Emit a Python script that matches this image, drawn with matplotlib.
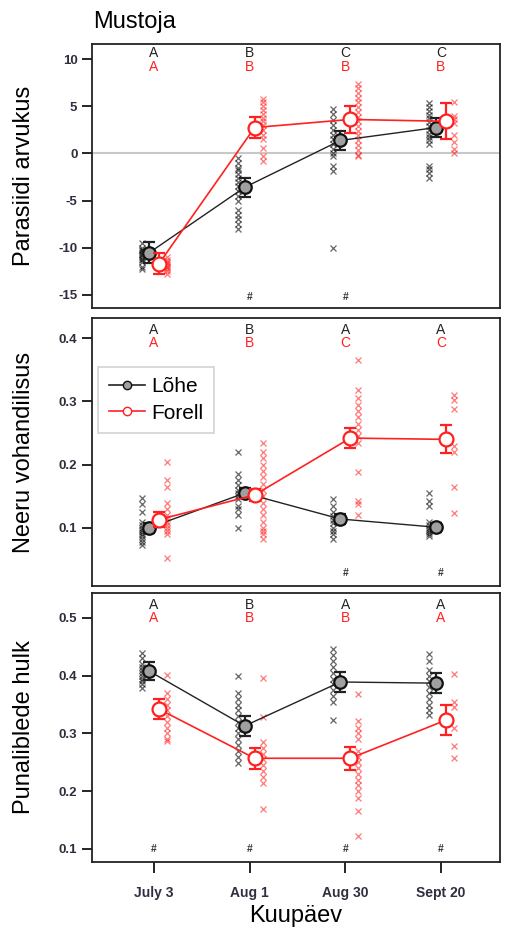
import matplotlib
matplotlib.use("Agg")
import matplotlib.pyplot as plt
from matplotlib.lines import Line2D
import numpy as np

plt.rcParams["font.family"] = ["Liberation Sans", "DejaVu Sans"]

DATES = ["July 3", "Aug 1", "Aug 30", "Sept 20"]
X = np.arange(1, 5)

# ---- panel 1: Parasiidi arvukus
par_lohe_mean = [-10.55, -3.6, 1.37, 2.74]
par_lohe_se = [1.1, 1.0, 1.0, 1.0]
par_forell_mean = [-11.7, 2.74, 3.6, 3.4]
par_forell_se = [1.1, 1.1, 1.4, 1.9]
par_lohe_pts = [
    [-9.5, -10, -10.2, -10.3, -10.5, -10.7, -10.8, -11, -11.2, -11.3, -11.5, -12, -12.3],
    [-0.5, -1, -1.5, -1.8, -2.2, -2.6, -3, -3.5, -4, -4.5, -5, -6, -6.5, -7, -7.5, -8],
    [4.7, 4.2, 3.5, 3, 2.5, 2, 1.5, 1.0, 0.5, 0, -0.3, -1.3, -1.9, -10],
    [5.3, 4.9, 4.5, 4.1, 3.7, 3.3, 2.9, 2.5, 2.1, 1.7, 1.4, 1.0, -1.3, -1.7, -2.1, -2.6],
]
par_forell_pts = [
    [-11, -11.3, -11.5, -11.6, -11.8, -12, -12.1, -12.3, -12.5, -12.8],
    [5.8, 5.4, 5.0, 4.6, 4.2, 3.8, 3.4, 3.0, 2.5, 2.0, 1.5, 0.6, -0.3, -0.8],
    [7.4, 6.9, 6.4, 5.9, 5.4, 4.9, 4.4, 3.9, 3.4, 2.9, 2.4, 1.9, 1.4, 0.9, 0.4, -0.2, -0.3],
    [5.5, 4.0, 3.6, 3.2, 2.0, 1.2, 0.5, 0.0],
]
par_letters_lohe = ["A", "B", "C", "C"]
par_letters_forell = ["A", "B", "B", "B"]
par_hash = [False, True, True, False]

# ---- panel 2: Neeru vohandilisus
nee_lohe_mean = [0.100, 0.155, 0.114, 0.101]
nee_lohe_se = [0.008, 0.008, 0.008, 0.007]
nee_forell_mean = [0.113, 0.152, 0.242, 0.240]
nee_forell_se = [0.012, 0.010, 0.016, 0.022]
nee_lohe_pts = [
    [0.147, 0.137, 0.125, 0.11, 0.105, 0.1, 0.097, 0.093, 0.09, 0.087, 0.083, 0.078, 0.073],
    [0.22, 0.185, 0.175, 0.168, 0.16, 0.155, 0.15, 0.145, 0.135, 0.13, 0.12, 0.1],
    [0.145, 0.135, 0.125, 0.118, 0.112, 0.107, 0.1, 0.095, 0.09, 0.083],
    [0.155, 0.142, 0.135, 0.11, 0.105, 0.1, 0.097, 0.094, 0.09, 0.087],
]
nee_forell_pts = [
    [0.204, 0.175, 0.165, 0.14, 0.13, 0.12, 0.115, 0.11, 0.105, 0.1, 0.095, 0.09, 0.053],
    [0.234, 0.22, 0.21, 0.2, 0.19, 0.18, 0.17, 0.16, 0.15, 0.14, 0.13, 0.12, 0.11, 0.1,
     0.095, 0.09, 0.083],
    [0.365, 0.318, 0.305, 0.295, 0.285, 0.275, 0.265, 0.255, 0.245, 0.235, 0.189, 0.143,
     0.138, 0.12],
    [0.31, 0.303, 0.288, 0.23, 0.22, 0.165, 0.124],
]
nee_letters_lohe = ["A", "B", "A", "A"]
nee_letters_forell = ["A", "B", "C", "C"]
nee_hash = [False, False, True, True]

# ---- panel 3: Punaliblede hulk
pun_lohe_mean = [0.408, 0.313, 0.389, 0.387]
pun_lohe_se = [0.016, 0.017, 0.017, 0.017]
pun_forell_mean = [0.342, 0.257, 0.257, 0.323]
pun_forell_se = [0.017, 0.018, 0.020, 0.026]
pun_lohe_pts = [
    [0.439, 0.43, 0.42, 0.415, 0.41, 0.405, 0.4, 0.395, 0.39, 0.385, 0.379],
    [0.40, 0.37, 0.36, 0.35, 0.34, 0.33, 0.32, 0.31, 0.3, 0.29, 0.28, 0.27, 0.26, 0.249],
    [0.446, 0.435, 0.425, 0.415, 0.405, 0.395, 0.385, 0.375, 0.365, 0.354, 0.323],
    [0.437, 0.425, 0.41, 0.4, 0.39, 0.38, 0.37, 0.36, 0.35, 0.34, 0.332],
]
pun_forell_pts = [
    [0.401, 0.37, 0.36, 0.35, 0.34, 0.33, 0.32, 0.31, 0.3, 0.29, 0.287],
    [0.396, 0.328, 0.285, 0.275, 0.265, 0.255, 0.245, 0.235, 0.225, 0.215, 0.169],
    [0.368, 0.322, 0.31, 0.30, 0.29, 0.27, 0.26, 0.25, 0.24, 0.23, 0.22, 0.21, 0.2,
     0.188, 0.166, 0.122],
    [0.403, 0.355, 0.345, 0.31, 0.278, 0.257],
]
pun_letters_lohe = ["A", "B", "A", "A"]
pun_letters_forell = ["A", "B", "B", "A"]
pun_hash = [True, True, True, True]

RED = "#ff2020"
TICK_COL = "#2e2e3e"


def _draw_panel(ax, lohe_mean, lohe_se, forell_mean, forell_se, lohe_pts, forell_pts,
                let_l, let_f, hashes, ylim, yticks, ylabel, letter_y):
    """One panel: raw crosses, means with SE, letters and # marks."""
    for i, x in enumerate(X):
        ax.plot(np.full(len(lohe_pts[i]), x - 0.125), lohe_pts[i], "x", color="k",
                ms=4.5, mew=0.9, alpha=0.6, zorder=2)
        ax.plot(np.full(len(forell_pts[i]), x + 0.135), forell_pts[i], "x", color=RED,
                ms=4.5, mew=0.9, alpha=0.6, zorder=2)

    ax.errorbar(X - 0.052, lohe_mean, yerr=lohe_se, color="#222222", lw=1.0,
                elinewidth=1.6, capsize=4, capthick=1.6, marker="o", ms=9,
                mfc="#a0a0a0", mec="#111111", mew=1.6, zorder=4)
    ax.errorbar(X + 0.052, forell_mean, yerr=forell_se, color=RED, lw=1.2,
                elinewidth=1.6, capsize=4, capthick=1.6, marker="o", ms=10,
                mfc="white", mec=RED, mew=1.6, zorder=5)

    tr = ax.get_xaxis_transform()
    for i, x in enumerate(X):
        ax.text(x, letter_y[0], let_l[i], transform=tr, ha="center", va="center",
                fontsize=10, color="#222222")
        ax.text(x, letter_y[1], let_f[i], transform=tr, ha="center", va="center",
                fontsize=10, color=RED)
        if hashes[i]:
            ax.text(x, letter_y[2], "#", transform=tr, ha="center", va="center",
                    fontsize=7.5, fontweight="bold", color="#333333")

    ax.set_xlim(0.352, 4.617)
    ax.set_ylim(*ylim)
    ax.set_yticks(yticks)
    ax.set_yticklabels([f"{t:g}" for t in yticks])
    ax.set_ylabel(ylabel, fontsize=17)
    ax.tick_params(axis="y", length=7, width=1.2, labelsize=9.5, labelcolor=TICK_COL,
                   direction="out")
    for lab in ax.get_yticklabels():
        lab.set_fontweight("bold")
    for s in ax.spines.values():
        s.set_linewidth(1.3)
        s.set_color("#222222")


fig = plt.figure(figsize=(5.06, 9.31), dpi=100)
left, width = 92 / 506, 408 / 506
ax1 = fig.add_axes([left, 1 - 308 / 931, width, 264 / 931])
ax2 = fig.add_axes([left, 1 - 586 / 931, width, 268 / 931])
ax3 = fig.add_axes([left, 1 - 862 / 931, width, 269 / 931])

ax1.axhline(0, color="#c8c8c8", lw=1.5, zorder=1)
_draw_panel(ax1, par_lohe_mean, par_lohe_se, par_forell_mean, par_forell_se,
            par_lohe_pts, par_forell_pts, par_letters_lohe, par_letters_forell, par_hash,
            (-16.4, 11.6), [-15, -10, -5, 0, 5, 10], "Parasiidi arvukus",
            (0.966, 0.913, 0.042))
_draw_panel(ax2, nee_lohe_mean, nee_lohe_se, nee_forell_mean, nee_forell_se,
            nee_lohe_pts, nee_forell_pts, nee_letters_lohe, nee_letters_forell, nee_hash,
            (0.008, 0.432), [0.1, 0.2, 0.3, 0.4], "Neeru vohandilisus",
            (0.955, 0.907, 0.049))
_draw_panel(ax3, pun_lohe_mean, pun_lohe_se, pun_forell_mean, pun_forell_se,
            pun_lohe_pts, pun_forell_pts, pun_letters_lohe, pun_letters_forell, pun_hash,
            (0.0775, 0.543), [0.1, 0.2, 0.3, 0.4, 0.5], "Punaliblede hulk",
            (0.955, 0.907, 0.048))

for ax in (ax1, ax2):
    ax.set_xticks([])
ax3.set_xticks(X)
ax3.set_xticklabels(DATES, fontweight="bold")
ax3.tick_params(axis="x", length=8, width=1.2, labelsize=10, labelcolor=TICK_COL, pad=9)
ax3.set_xlabel("Kuupäev", fontsize=17, labelpad=4)

for ax in (ax1, ax2, ax3):
    ax.yaxis.set_label_coords(-0.14, 0.5)

handles = [
    Line2D([], [], color="#222222", lw=1.2, marker="o", ms=6, mfc="#a0a0a0", mec="#111111"),
    Line2D([], [], color=RED, lw=1.2, marker="o", ms=6, mfc="white", mec=RED),
]
leg = ax2.legend(handles, ["Lõhe", "Forell"], loc="upper left",
                 bbox_to_anchor=(0.015, 0.817), borderaxespad=0, fontsize=15,
                 fancybox=False, edgecolor="#c8c8c8", handlelength=1.75,
                 handletextpad=0.3, borderpad=0.5, labelspacing=0.35)
leg.get_frame().set_linewidth(1.2)

fig.text(93 / 506, 1 - 22 / 931, "Mustoja", fontsize=17, ha="left", va="center")

fig.savefig("out.png", dpi=100)
